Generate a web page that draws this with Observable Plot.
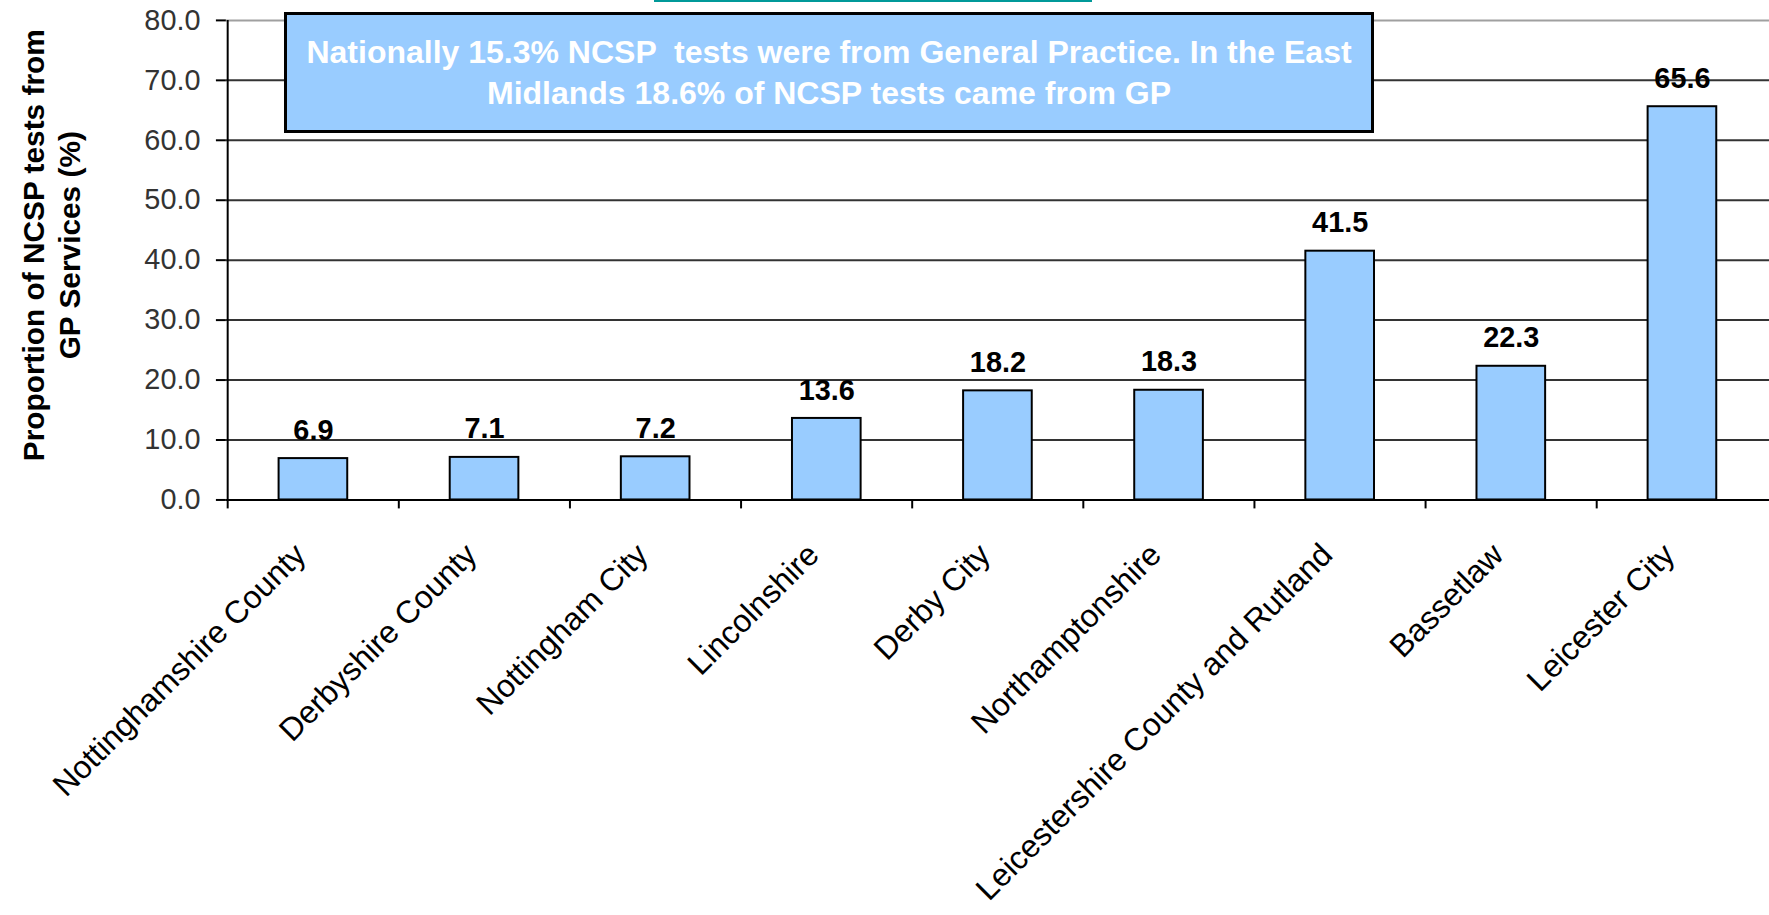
<!DOCTYPE html>
<html>
<head>
<meta charset="utf-8">
<script src="https://cdn.jsdelivr.net/npm/d3@7"></script>
<script src="https://cdn.jsdelivr.net/npm/@observablehq/plot@0.6"></script>
<style>
  html, body { margin: 0; padding: 0; background: #fff; }
  #wrap { position: relative; width: 1769px; height: 915px; overflow: hidden; background: #fff; }
  #note {
    position: absolute; left: 284px; top: 12px; width: 1090px; height: 121px;
    box-sizing: border-box; border: 3px solid #000; background: #99CCFF;
    display: flex; flex-direction: column; justify-content: center; align-items: center;
    color: #fff; font-family: Arial, "Liberation Sans", sans-serif; font-weight: bold;
    font-size: 32px; line-height: 41px; white-space: pre; text-align: center;
  }
  #teal { position: absolute; left: 654px; top: 0; width: 438px; height: 2px; background: #009999; }
</style>
</head>
<body>
<div id="wrap">
  <div id="chart"></div>
  <div id="teal"></div>
  <div id="note"><span>Nationally 15.3% NCSP  tests were from General Practice. In the East</span><span>Midlands 18.6% of NCSP tests came from GP</span></div>
</div>
<script>
const categories = [
  "Nottinghamshire County", "Derbyshire County", "Nottingham City", "Lincolnshire",
  "Derby City", "Northamptonshire", "Leicestershire County and Rutland", "Bassetlaw", "Leicester City"
];
const values = [6.9, 7.1, 7.2, 13.6, 18.2, 18.3, 41.5, 22.3, 65.6];
const yTicks = [0, 10, 20, 30, 40, 50, 60, 70, 80];
const yTitle = "Proportion of NCSP tests from\nGP Services (%)";

const data = categories.map((c, i) => ({category: c, value: values[i]}));

const W = 1778, H = 915, mL = 227, mR = 0, mT = 20, mB = 413;
const step = (W - mL - mR) / categories.length;

const chart = Plot.plot({
  width: W, height: H,
  marginLeft: mL, marginRight: mR, marginTop: mT, marginBottom: mB,
  style: {fontFamily: "Arial, 'Liberation Sans', sans-serif", background: "#fff", overflow: "visible"},
  x: {domain: categories, paddingInner: 0.6, paddingOuter: 0.3, axis: null},
  y: {domain: [0, 80], axis: null},
  marks: [
    Plot.ruleY(yTicks.filter(d => d > 0 && d < 80), {y: d => d, stroke: "#333", strokeWidth: 2}),
    Plot.ruleY([80], {y: d => d, stroke: "#a0a0a0", strokeWidth: 2}),
    Plot.axisY({ticks: yTicks, tickSize: 10, tickPadding: 16, tickFormat: d3.format(".1f"),
      fontSize: 29, color: "#333", stroke: "#000", strokeWidth: 2, label: null}),
    Plot.barY(data, {x: "category", y: "value", fill: "#99CCFF", stroke: "#000", strokeWidth: 2}),
    Plot.ruleY([0], {y: d => d, stroke: "#000", strokeWidth: 2}),
    Plot.ruleX([categories[0]], {x: d => d, y1: 0, y2: 80, dx: -step / 2, stroke: "#000", strokeWidth: 2}),
    Plot.axisX({ticks: categories, tickSize: 9, tickFormat: () => "", dx: -step / 2,
      stroke: "#000", strokeWidth: 2, label: null}),
    Plot.text(data, {x: "category", y: "value", text: d => d.value.toFixed(1), dy: -19,
      lineAnchor: "bottom", fontSize: 29, fontWeight: "bold", fill: "#000"}),
    Plot.text(categories, {x: d => d, text: d => d, frameAnchor: "bottom", dy: 57, dx: -6,
      rotate: -45, textAnchor: "end", lineAnchor: "bottom", fontSize: 32, fill: "#000"}),
    Plot.text([yTitle], {text: d => d, frameAnchor: "left", dx: 50 - mL, dy: 246 - (mT + (H - mB)) / 2,
      rotate: -90, textAnchor: "middle", lineAnchor: "middle", lineHeight: 1.2,
      fontSize: 30, fontWeight: "bold", fill: "#000"})
  ]
});
document.getElementById("chart").appendChild(chart);
</script>
</body>
</html>
